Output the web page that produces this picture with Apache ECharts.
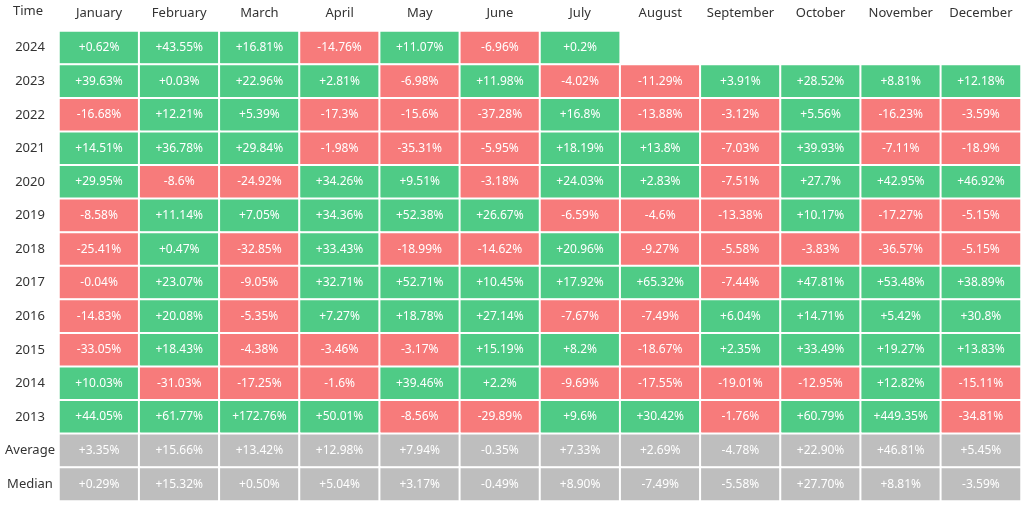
<!DOCTYPE html>
<html><head><meta charset="utf-8">
<script src="https://cdn.jsdelivr.net/npm/echarts@6/dist/echarts.min.js"></script>
<style>html,body{margin:0;background:#fff}#c{width:1024px;height:508px}</style>
</head><body><div id="c"></div>
<script>
const months=["January","February","March","April","May","June","July","August","September","October","November","December"];
const rows=["2024","2023","2022","2021","2020","2019","2018","2017","2016","2015","2014","2013","Average","Median"];
const r2024=["+0.62%","+43.55%","+16.81%","-14.76%","+11.07%","-6.96%","+0.2%"];
const r2023=["+39.63%","+0.03%","+22.96%","+2.81%","-6.98%","+11.98%","-4.02%","-11.29%","+3.91%","+28.52%","+8.81%","+12.18%"];
const r2022=["-16.68%","+12.21%","+5.39%","-17.3%","-15.6%","-37.28%","+16.8%","-13.88%","-3.12%","+5.56%","-16.23%","-3.59%"];
const r2021=["+14.51%","+36.78%","+29.84%","-1.98%","-35.31%","-5.95%","+18.19%","+13.8%","-7.03%","+39.93%","-7.11%","-18.9%"];
const r2020=["+29.95%","-8.6%","-24.92%","+34.26%","+9.51%","-3.18%","+24.03%","+2.83%","-7.51%","+27.7%","+42.95%","+46.92%"];
const r2019=["-8.58%","+11.14%","+7.05%","+34.36%","+52.38%","+26.67%","-6.59%","-4.6%","-13.38%","+10.17%","-17.27%","-5.15%"];
const r2018=["-25.41%","+0.47%","-32.85%","+33.43%","-18.99%","-14.62%","+20.96%","-9.27%","-5.58%","-3.83%","-36.57%","-5.15%"];
const r2017=["-0.04%","+23.07%","-9.05%","+32.71%","+52.71%","+10.45%","+17.92%","+65.32%","-7.44%","+47.81%","+53.48%","+38.89%"];
const r2016=["-14.83%","+20.08%","-5.35%","+7.27%","+18.78%","+27.14%","-7.67%","-7.49%","+6.04%","+14.71%","+5.42%","+30.8%"];
const r2015=["-33.05%","+18.43%","-4.38%","-3.46%","-3.17%","+15.19%","+8.2%","-18.67%","+2.35%","+33.49%","+19.27%","+13.83%"];
const r2014=["+10.03%","-31.03%","-17.25%","-1.6%","+39.46%","+2.2%","-9.69%","-17.55%","-19.01%","-12.95%","+12.82%","-15.11%"];
const r2013=["+44.05%","+61.77%","+172.76%","+50.01%","-8.56%","-29.89%","+9.6%","+30.42%","-1.76%","+60.79%","+449.35%","-34.81%"];
const rAvg=["+3.35%","+15.66%","+13.42%","+12.98%","+7.94%","-0.35%","+7.33%","+2.69%","-4.78%","+22.90%","+46.81%","+5.45%"];
const rMed=["+0.29%","+15.32%","+0.50%","+5.04%","+3.17%","-0.49%","+8.90%","-7.49%","-5.58%","+27.70%","+8.81%","-3.59%"];
const table=[r2024,r2023,r2022,r2021,r2020,r2019,r2018,r2017,r2016,r2015,r2014,r2013,rAvg,rMed];
const data=[];
table.forEach((row,ri)=>row.forEach((s,ci)=>{
  const v=parseFloat(s);
  const gray=ri>=12;
  data.push({value:[ci,ri,v],label:{formatter:s},itemStyle:{color:gray?'#bebebe':(v>=0?'#4fcb86':'#f77b7b')}});
}));
const ch=echarts.init(document.getElementById('c'));
ch.setOption({
  animation:false,
  grid:{left:59,right:3,top:31,bottom:7},
  xAxis:{type:'category',data:months,position:'top',axisLine:{show:false},axisTick:{show:false},
    axisLabel:{interval:0,color:'#333',fontSize:13,fontFamily:'Noto Sans',margin:11}},
  yAxis:{type:'category',data:rows,inverse:true,axisLine:{show:false},axisTick:{show:false},
    axisLabel:{color:'#333',fontSize:13,fontFamily:'Noto Sans',align:'center',margin:29}},
  graphic:[{type:'text',left:13,top:5,style:{text:'Time',fill:'#333',font:'13px Noto Sans'}}],
  series:[{type:'heatmap',data:data,
    itemStyle:{borderColor:'#fff',borderWidth:2},
    label:{show:true,color:'#fff',fontSize:12,fontFamily:'Noto Sans'}}]
});
</script></body></html>
